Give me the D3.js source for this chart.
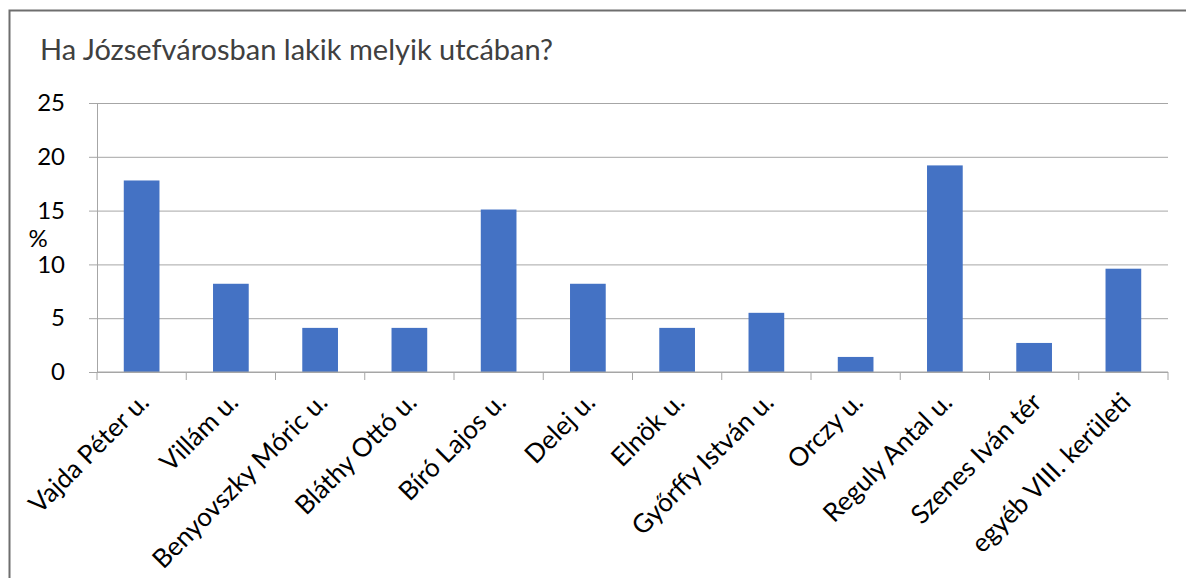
<!DOCTYPE html>
<html>
<head>
<meta charset="utf-8">
<script src="https://cdn.jsdelivr.net/npm/d3@7"></script>
<style>
  body { margin: 0; background: #fff; }
  svg { display: block; font-family: Lato, "Open Sans", sans-serif; }
</style>
</head>
<body>
<div id="chart"></div>
<script>
// data (share of respondents, %)
const categories = ["Vajda Péter u.", "Villám u.", "Benyovszky Móric u.", "Bláthy Ottó u.",
  "Bíró Lajos u.", "Delej u.", "Elnök u.", "Győrffy István u.", "Orczy u.",
  "Reguly Antal u.", "Szenes Iván tér", "egyéb VIII. kerületi"];
const values = [17.8, 8.2, 4.1, 4.1, 15.1, 8.2, 4.1, 5.5, 1.4, 19.2, 2.7, 9.6];
const yTicks = [0, 5, 10, 15, 20, 25];

const width = 1186, height = 578;
const margin = { top: 103, right: 18, bottom: 206, left: 97 };

const svg = d3.select("#chart").append("svg")
  .attr("width", width)
  .attr("height", height);

// outer chart border
svg.append("rect")
  .attr("x", 9.5).attr("y", 10.5)
  .attr("width", width + 20).attr("height", height + 20)
  .attr("fill", "none")
  .attr("stroke", "#6e6e6e")
  .attr("stroke-width", 2);

svg.append("text")
  .attr("x", 40).attr("y", 60)
  .attr("font-size", 29)
  .attr("fill", "#404040")
  .text("Ha Józsefvárosban lakik melyik utcában?");

const x = d3.scaleBand()
  .domain(categories)
  .range([margin.left, width - margin.right])
  .padding(0);

const y = d3.scaleLinear()
  .domain([0, 25])
  .range([height - margin.bottom, margin.top]);

// gridlines + y axis
const yAxis = svg.append("g")
  .attr("transform", `translate(${margin.left},0)`)
  .call(d3.axisLeft(y).tickValues(yTicks).tickSize(8).tickPadding(24));
yAxis.select(".domain").attr("stroke", "#a6a6a6");
yAxis.selectAll(".tick line").attr("stroke", "#a6a6a6")
  .attr("x2", width - margin.right - margin.left)
  .attr("x1", -8);
yAxis.selectAll(".tick text")
  .attr("font-size", 24)
  .attr("fill", "#000")
  .attr("font-family", "Lato, sans-serif");

svg.append("text")
  .attr("x", 38).attr("y", 247)
  .attr("text-anchor", "middle")
  .attr("font-size", 24)
  .text("%");

// bars
const barW = x.bandwidth() * 0.4;
svg.append("g").selectAll("rect")
  .data(categories)
  .join("rect")
  .attr("x", (d) => x(d) + (x.bandwidth() - barW) / 2)
  .attr("y", (d, i) => y(values[i]))
  .attr("width", barW)
  .attr("height", (d, i) => y(0) - y(values[i]))
  .attr("fill", "#4472c4");

// x axis with boundary ticks
const xAxis = svg.append("g")
  .attr("transform", `translate(0,${y(0)})`);
xAxis.append("line")
  .attr("x1", margin.left).attr("x2", width - margin.right)
  .attr("stroke", "#a6a6a6");
const bounds = categories.map((d) => x(d)).concat([width - margin.right]);
xAxis.selectAll("line.tk")
  .data(bounds)
  .join("line")
  .attr("class", "tk")
  .attr("x1", (d) => d).attr("x2", (d) => d)
  .attr("y1", 0).attr("y2", 8)
  .attr("stroke", "#a6a6a6");

xAxis.selectAll("text")
  .data(categories)
  .join("text")
  .attr("transform", (d) => `translate(${x(d) + x.bandwidth() / 2 + 9},${32}) rotate(-45)`)
  .attr("text-anchor", "end")
  .attr("font-size", 26)
  .attr("fill", "#000")
  .text((d) => d);
</script>
</body>
</html>
